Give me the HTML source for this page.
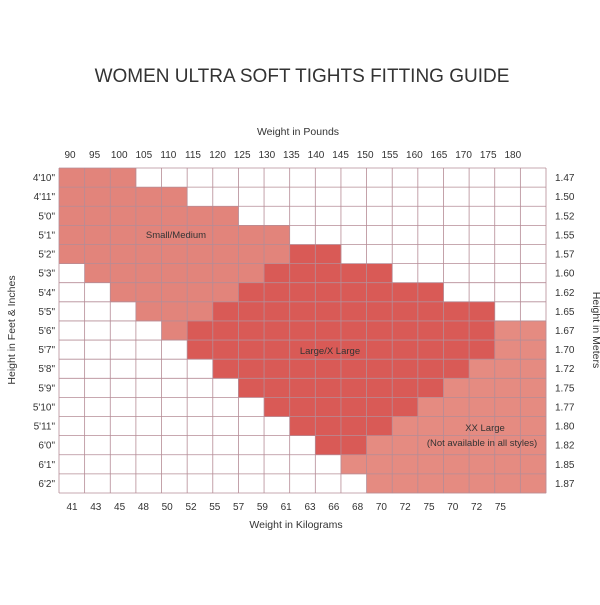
<!DOCTYPE html>
<html><head><meta charset="utf-8"><style>
body{margin:0;background:#fff;}
svg text{font-family:"Liberation Sans",sans-serif;fill:#333;}
</style></head><body>
<svg id="chart" width="600" height="600" xmlns="http://www.w3.org/2000/svg">
<text x="302" y="82" font-size="19" text-anchor="middle" fill="#222">WOMEN ULTRA SOFT TIGHTS FITTING GUIDE</text>
<text x="298" y="135" font-size="10.5" text-anchor="middle">Weight in Pounds</text>
<text x="296" y="528" font-size="10.5" text-anchor="middle">Weight in Kilograms</text>
<text transform="translate(15,330) rotate(-90)" font-size="10.5" text-anchor="middle">Height in Feet &amp; Inches</text>
<text transform="translate(593,330) rotate(90)" font-size="10.5" text-anchor="middle">Height in Meters</text>
<g id="cells"></g><g id="grid"></g><g id="labels"></g>
<text x="176" y="238" font-size="9.5" text-anchor="middle" fill="#6a3b38">Small/Medium</text>
<text x="330" y="354" font-size="9.5" text-anchor="middle" fill="#6a3b38">Large/X Large</text>
<text x="485" y="431" font-size="9.5" text-anchor="middle" fill="#6a3b38">XX Large</text>
<text x="482" y="446" font-size="9.5" text-anchor="middle" fill="#6a3b38">(Not available in all styles)</text>
</svg>
<script>
const poundLabels=["90","95","100","105","110","115","120","125","130","135","140","145","150","155","160","165","170","175","180"];
const kgLabels=["41","43","45","48","50","52","55","57","59","61","63","66","68","70","72","75","70","72","75"];
const feetLabels=["4'10\"","4'11\"","5'0\"","5'1\"","5'2\"","5'3\"","5'4\"","5'5\"","5'6\"","5'7\"","5'8\"","5'9\"","5'10\"","5'11\"","6'0\"","6'1\"","6'2\""];
const meterLabels=["1.47","1.50","1.52","1.55","1.57","1.60","1.62","1.65","1.67","1.70","1.72","1.75","1.77","1.80","1.82","1.85","1.87"];
const smallRanges=[[0,2],[0,4],[0,6],[0,8],[0,8],[1,7],[2,6],[3,5],[4,4],[-1,-1],[-1,-1],[-1,-1],[-1,-1],[-1,-1],[-1,-1],[-1,-1],[-1,-1]];
const largeRanges=[[-1,-1],[-1,-1],[-1,-1],[-1,-1],[9,10],[8,12],[7,14],[6,16],[5,16],[5,16],[6,15],[7,14],[8,13],[9,12],[10,11],[-1,-1],[-1,-1]];
const xxlRanges=[[-1,-1],[-1,-1],[-1,-1],[-1,-1],[-1,-1],[-1,-1],[-1,-1],[-1,-1],[17,18],[17,18],[16,18],[15,18],[14,18],[13,18],[12,18],[11,18],[12,18]];

const NS="http://www.w3.org/2000/svg";
const X0=59,X1=546,Y0=168,Y1=493,NC=19,NR=17;
const cw=(X1-X0)/NC, rh=(Y1-Y0)/NR;
const xCol=c=>X0+c*cw, yRow=r=>Y0+r*rh;
const cells=document.getElementById('cells'),grid=document.getElementById('grid'),labels=document.getElementById('labels');
function mk(tag,attrs,parent){const e=document.createElementNS(NS,tag);for(const k in attrs)e.setAttribute(k,attrs[k]);parent.appendChild(e);return e;}
function paint(ranges,color,name){
  ranges.forEach((rg,r)=>{ if(rg[0]<0)return;
    for(let c=rg[0];c<=rg[1];c++){
      const e=mk('rect',{x:xCol(c),y:yRow(r),width:cw+0.3,height:rh+0.3,fill:color},cells);
      
      
    }});
}
paint(smallRanges,'#e2847b','cell-small-medium');
paint(largeRanges,'#d95a56','cell-large-xlarge');
paint(xxlRanges,'#e58b81','cell-xx-large');
for(let c=0;c<=NC;c++){const e=mk('line',{x1:xCol(c),x2:xCol(c),y1:Y0,y2:Y1,stroke:'#b58c96','stroke-width':0.8},grid);
  
  }
for(let r=0;r<=NR;r++){const e=mk('line',{x1:X0,x2:X1,y1:yRow(r),y2:yRow(r),stroke:'#b58c96','stroke-width':0.8},grid);
  
  }
const pX=i=>70+i*24.6, kX=i=>72+i*23.8;
poundLabels.forEach((t,i)=>{const e=mk('text',{x:pX(i),y:158,'font-size':10,'text-anchor':'middle'},labels);e.textContent=t;
  
  });
kgLabels.forEach((t,i)=>{const e=mk('text',{x:kX(i),y:510,'font-size':10,'text-anchor':'middle'},labels);e.textContent=t;
  
  });
feetLabels.forEach((t,i)=>{const e=mk('text',{x:55,y:yRow(i)+rh/2+3.5,'font-size':10,'text-anchor':'end'},labels);e.textContent=t;
  
  });
meterLabels.forEach((t,i)=>{const e=mk('text',{x:555,y:yRow(i)+rh/2+3.5,'font-size':10},labels);e.textContent=t;
  
  });
</script>
</body></html>
